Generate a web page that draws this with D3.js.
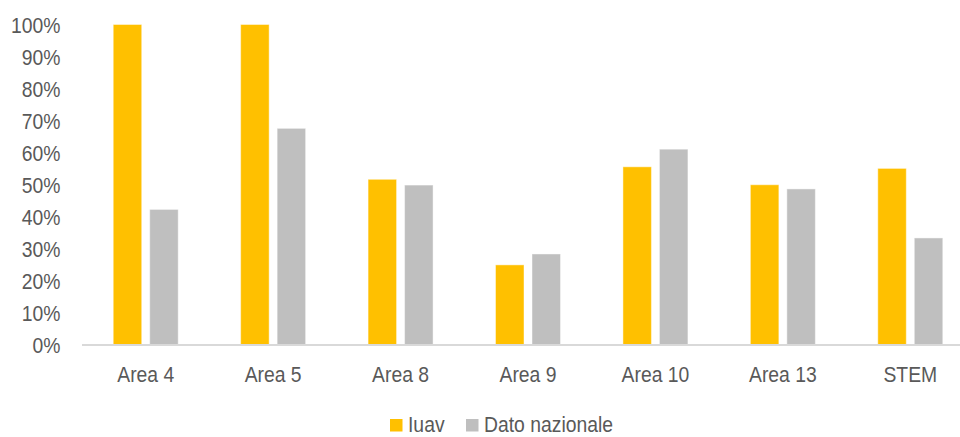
<!DOCTYPE html>
<html>
<head>
<meta charset="utf-8">
<script src="https://cdn.jsdelivr.net/npm/d3@7"></script>
<style>
  html, body { margin: 0; padding: 0; background: #fff; }
  svg { display: block; }
  text { font-family: "Liberation Sans Narrow", "Arial Narrow", "Liberation Sans", Arial, sans-serif; fill: #595959; }
</style>
</head>
<body>
<svg id="chart" width="960" height="437"></svg>
<script>
// Share of the two series per scientific area
const categories = ["Area 4", "Area 5", "Area 8", "Area 9", "Area 10", "Area 13", "STEM"];
const seriesNames = ["Iuav", "Dato nazionale"];
const iuavValues = [1.00, 1.00, 0.517, 0.25, 0.556, 0.50, 0.551];
const nationalValues = [0.423, 0.676, 0.499, 0.284, 0.611, 0.487, 0.334];
const yTicks = [0, 0.1, 0.2, 0.3, 0.4, 0.5, 0.6, 0.7, 0.8, 0.9, 1.0];
const colors = ["#FFC000", "#BFBFBF"];

const svg = d3.select("#chart");
const fontSize = 22.5;
const narrow = 0.86; // horizontal condensing of the label font

const x = d3.scaleBand()
  .domain(categories)
  .range([82, 974])
  .paddingInner(0.49)
  .paddingOuter(0.245);

const xInner = d3.scaleBand()
  .domain(seriesNames)
  .range([0, x.bandwidth()])
  .paddingInner(0.219);

const y = d3.scaleLinear().domain([0, 1]).range([345, 24.5]);

const color = d3.scaleOrdinal().domain(seriesNames).range(colors);

// Y axis labels
const yAxis = d3.axisLeft(y)
  .tickValues(yTicks)
  .tickFormat(d3.format(".0%"))
  .tickSize(0)
  .tickPadding(0);

const gy = svg.append("g").attr("transform", "translate(60.5,0)").call(yAxis);
gy.select(".domain").remove();
gy.selectAll("text")
  .attr("font-size", fontSize)
  .attr("font-family", null)
  .attr("dy", "0.34em")
  .attr("transform", `scale(${narrow},1)`);

// Bars
const rows = categories.map((c, i) => ({
  category: c,
  values: [
    { series: seriesNames[0], value: iuavValues[i] },
    { series: seriesNames[1], value: nationalValues[i] }
  ]
}));

const groups = svg.append("g")
  .selectAll("g")
  .data(rows)
  .join("g")
  .attr("transform", d => `translate(${x(d.category)},0)`);

groups.selectAll("rect")
  .data(d => d.values)
  .join("rect")
  .attr("x", d => xInner(d.series))
  .attr("width", xInner.bandwidth())
  .attr("y", d => y(d.value))
  .attr("height", d => y(0) - y(d.value))
  .attr("fill", d => color(d.series))
  .attr("stroke", "#ffffff")
  .attr("stroke-opacity", 0.45)
  .attr("stroke-width", 1);

// X axis baseline and category labels
const xAxis = d3.axisBottom(x).tickSize(0).tickPadding(21);
const gx = svg.append("g").attr("transform", `translate(0,${y(0)})`).call(xAxis);
gx.select(".domain").remove();
gx.selectAll("text")
  .attr("font-size", fontSize)
  .attr("font-family", null)
  .attr("transform", `scale(${narrow},1)`);

svg.append("line")
  .attr("x1", 82).attr("x2", 974)
  .attr("y1", y(0)).attr("y2", y(0))
  .attr("stroke", "#D9D9D9")
  .attr("stroke-width", 2);

// Legend
const legendItems = [
  { name: seriesNames[0], sx: 390, tx: 408 },
  { name: seriesNames[1], sx: 466, tx: 484 }
];
const legend = svg.append("g");
legend.selectAll("rect")
  .data(legendItems)
  .join("rect")
  .attr("x", d => d.sx)
  .attr("y", 419)
  .attr("width", 12.5)
  .attr("height", 12.5)
  .attr("fill", d => color(d.name));
legend.selectAll("text")
  .data(legendItems)
  .join("text")
  .attr("transform", d => `translate(${d.tx},432) scale(${narrow},1)`)
  .attr("font-size", fontSize)
  .text(d => d.name);
</script>
</body>
</html>
